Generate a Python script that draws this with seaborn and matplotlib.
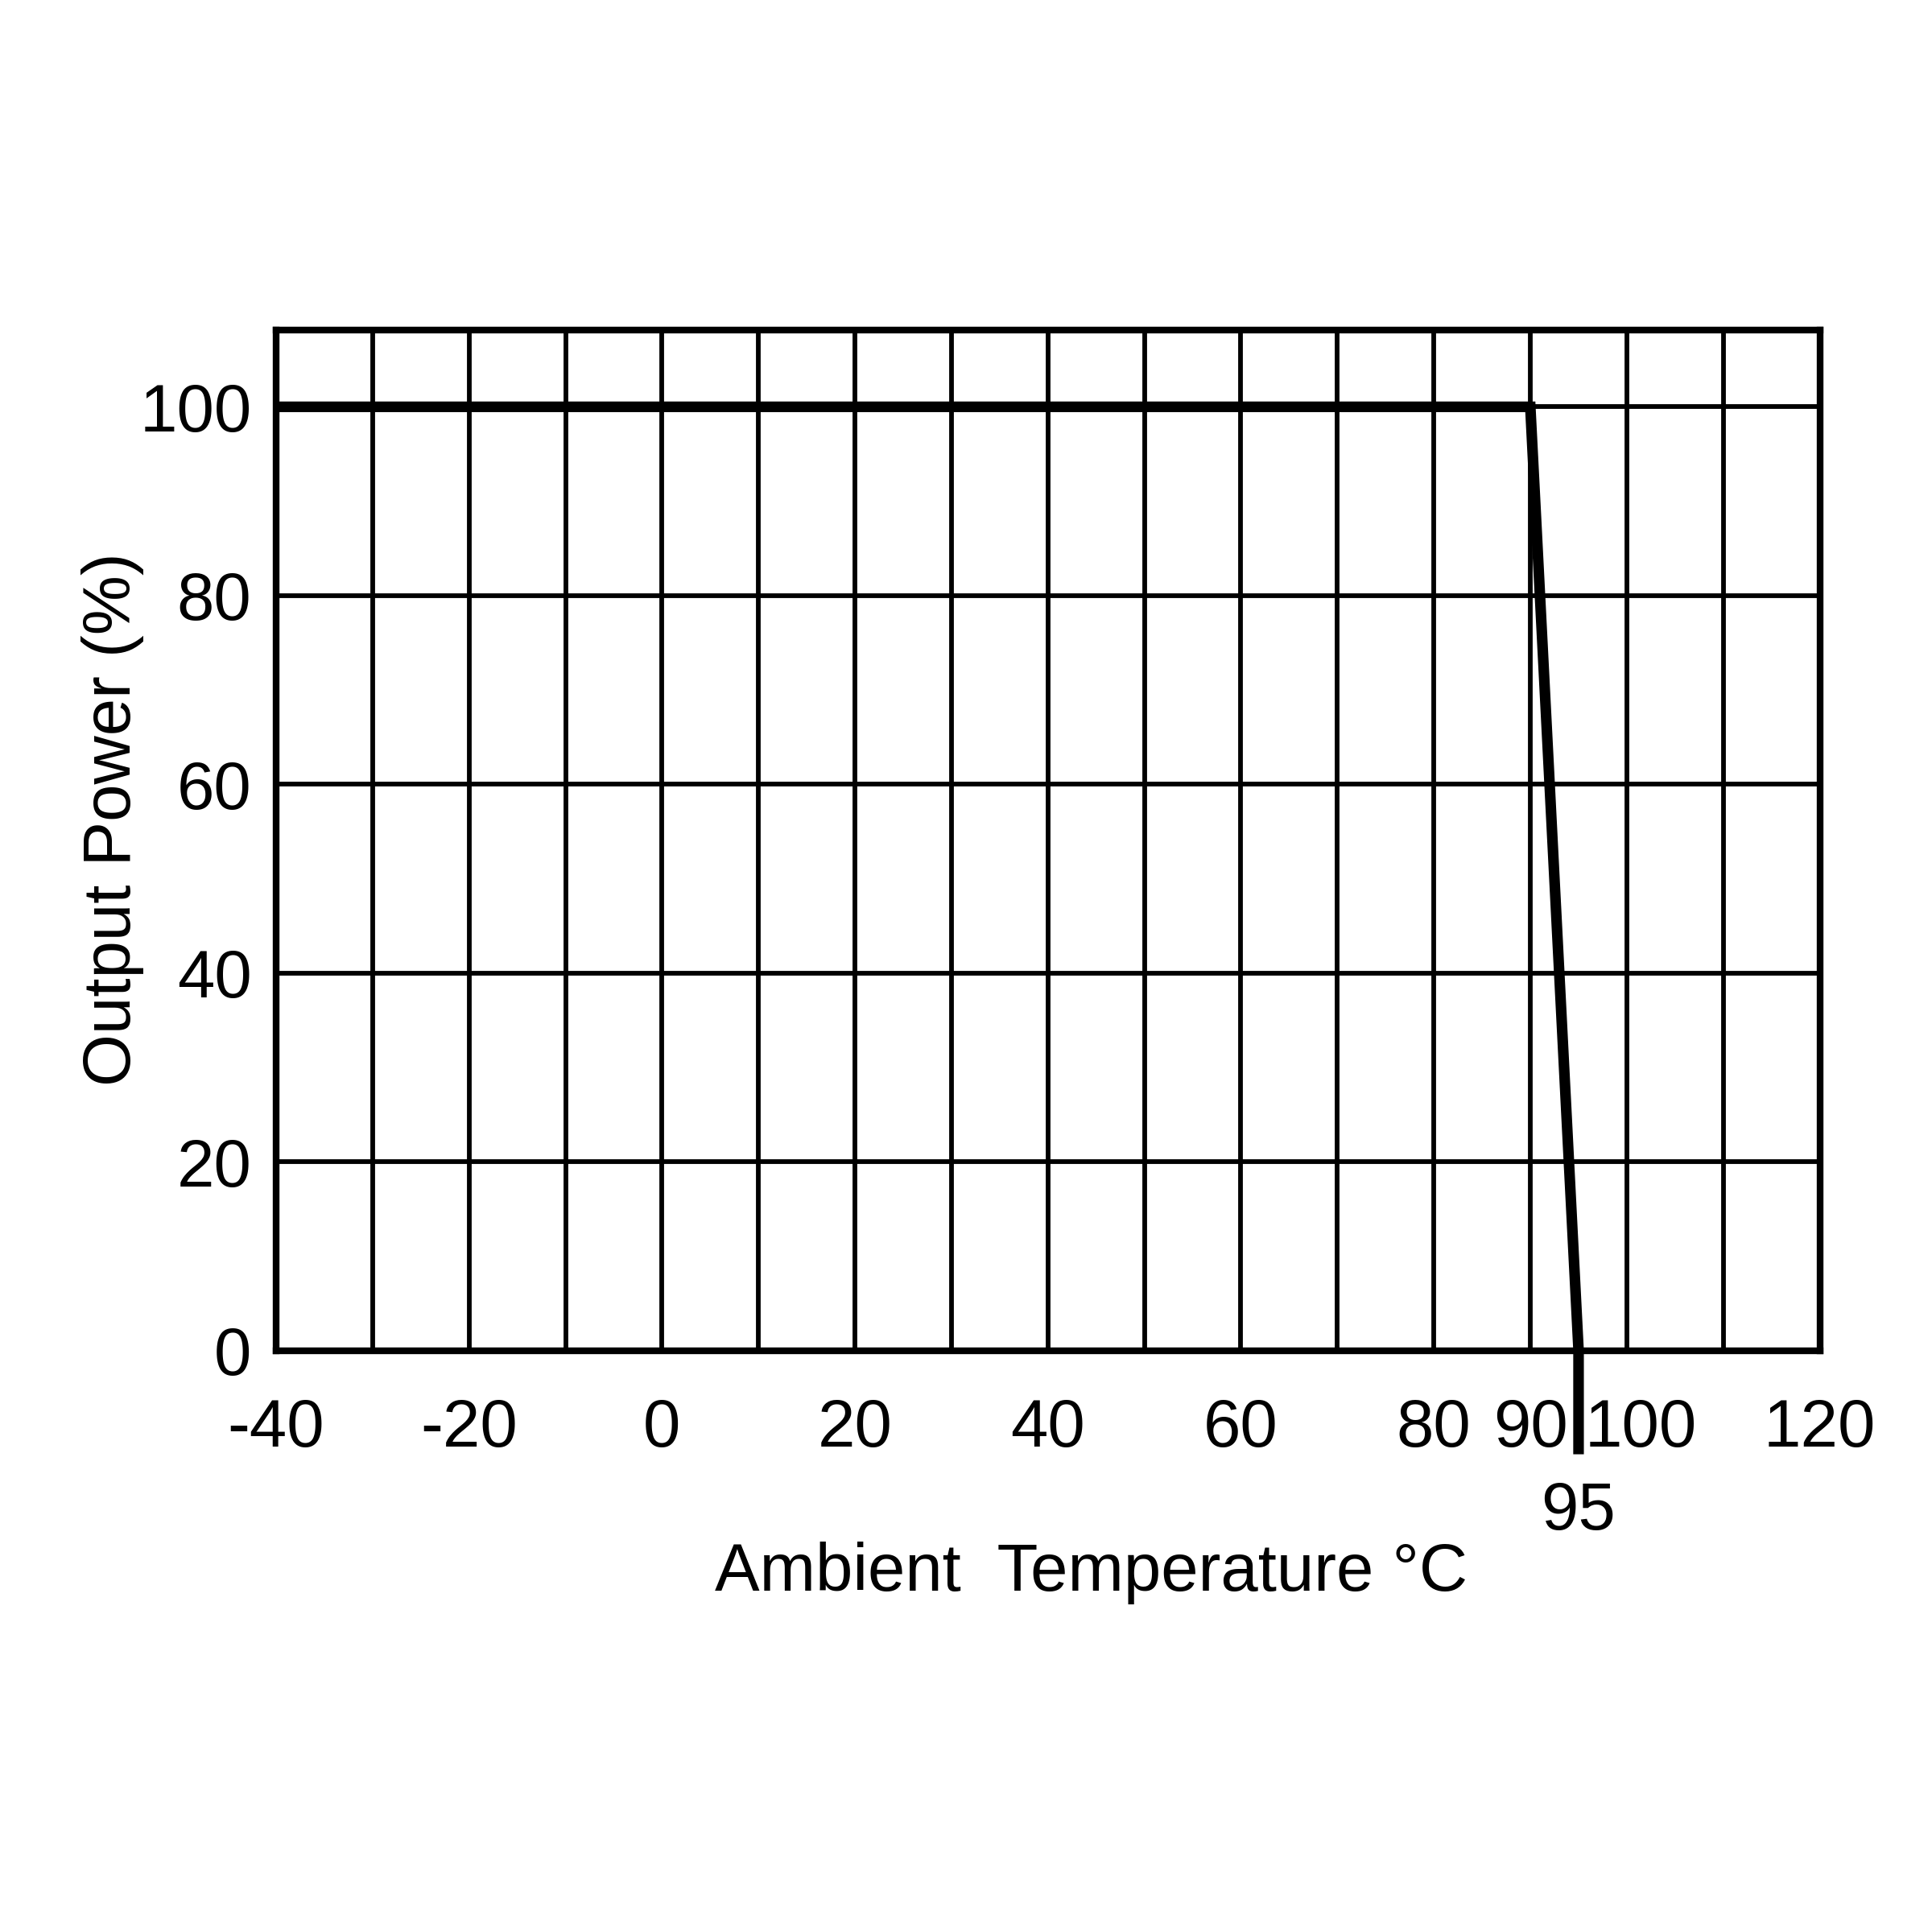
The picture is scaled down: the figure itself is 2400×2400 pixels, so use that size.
import matplotlib
matplotlib.use("Agg")
import matplotlib.pyplot as plt
import matplotlib.transforms as mtransforms
import seaborn as sns
import pandas as pd

# derating curve (ambient temperature vs output power)
temperature = [-40, 90, 95, 95]
output_power = [100, 100, 0, -11]

x_ticks = [-40, -20, 0, 20, 40, 60, 80, 90, 100, 120]
x_tick_labels = ["-40", "-20", "0", "20", "40", "60", "80", "90", "100", "120"]
x_minor_ticks = [95]
x_minor_labels = ["95"]
y_ticks = [0, 20, 40, 60, 80, 100]
x_grid = [-30, -20, -10, 0, 10, 20, 30, 40, 50, 60, 70, 80, 90, 100, 110]

sns.set_style("white")
plt.rcParams["font.family"] = ["Liberation Sans", "DejaVu Sans"]

fig = plt.figure(figsize=(24, 24), dpi=100)
ax = fig.add_axes([0.1429, 0.301, 0.799, 0.528])

# grid
for gx in x_grid:
    ax.axvline(gx, color="black", lw=4.2, zorder=1)
for gy in y_ticks[1:]:
    ax.axhline(gy, color="black", lw=4.2, zorder=1)

df = pd.DataFrame({"temp": temperature, "power": output_power})
sns.lineplot(data=df, x="temp", y="power", sort=False, estimator=None,
             color="black", lw=9.5, ax=ax, zorder=3, clip_on=False,
             solid_capstyle="butt", solid_joinstyle="miter")

ax.set_xlim(-40, 120)
ax.set_ylim(0, 108.1)
ax.set_xticks(x_ticks)
ax.set_xticklabels(x_tick_labels)
ax.set_xticks(x_minor_ticks, minor=True)
ax.set_xticklabels(x_minor_labels, minor=True)
ax.set_yticks(y_ticks)
ax.tick_params(axis="both", which="both", length=0, labelsize=60, colors="black")
ax.tick_params(axis="x", which="major", pad=42)
ax.tick_params(axis="x", which="minor", pad=116)
ax.tick_params(axis="y", pad=22)

# nudge "100" right of the derating line
for lab in ax.get_xticklabels():
    if lab.get_text() == "100":
        off = mtransforms.ScaledTranslation(0.17, 0, fig.dpi_scale_trans)
        lab.set_transform(lab.get_transform() + off)

for sp in ax.spines.values():
    sp.set_visible(True)
    sp.set_color("black")
    sp.set_linewidth(6)
    sp.set_zorder(4)

ax.set_xlabel("Ambient  Temperature \u00b0C", fontsize=60, color="black")
ax.set_ylabel("Output Power (%)", fontsize=60, color="black")
ax.xaxis.set_label_coords(0.528, -0.187)
ax.yaxis.set_label_coords(-0.0854, 0.5205)

fig.savefig("out.png", dpi=100, facecolor="white")
